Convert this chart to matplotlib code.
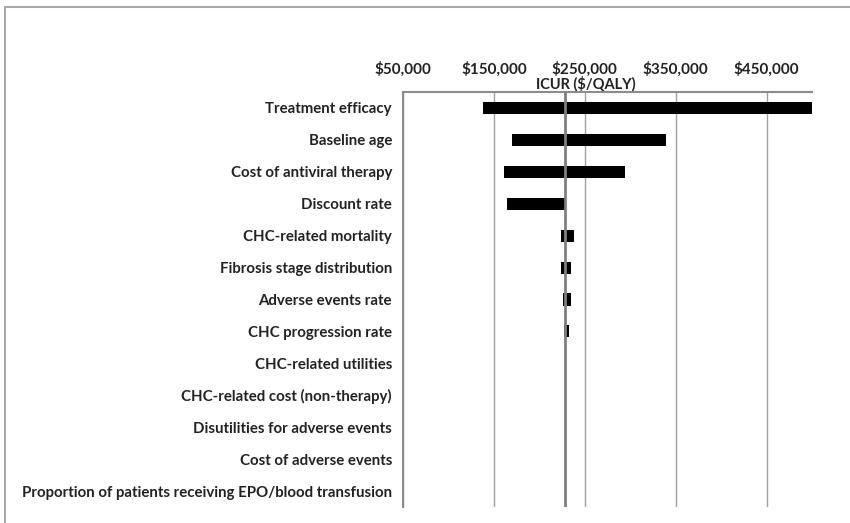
import matplotlib
matplotlib.use("Agg")
import matplotlib.pyplot as plt
from matplotlib.patches import Rectangle

params = [
    "Treatment efficacy",
    "Baseline age",
    "Cost of antiviral therapy",
    "Discount rate",
    "CHC-related mortality",
    "Fibrosis stage distribution",
    "Adverse events rate",
    "CHC progression rate",
    "CHC-related utilities",
    "CHC-related cost (non-therapy)",
    "Disutilities for adverse events",
    "Cost of adverse events",
    "Proportion of patients receiving EPO/blood transfusion",
]
low_icur = [137700, 169800, 160700, 164700, 224000, 223500, 225700, 226800, 228200,
            228600, 228600, 228600, 228600]
high_icur = [500000, 339000, 294000, 228600, 238400, 235200, 234500, 232300, 229200,
             228600, 228600, 228600, 228600]
base_icur = 228600
tick_values = [50000, 150000, 250000, 350000, 450000]
tick_labels = ["$50,000", "$150,000", "$250,000", "$350,000", "$450,000"]
x_title = "ICUR ($/QALY)"

fig = plt.figure(figsize=(8.5, 5.23), dpi=100)
fig.patches.append(Rectangle((5/850, -0.05), 1.2, 1.05 - 7/523, transform=fig.transFigure,
                             fill=False, edgecolor="#a8a8a8", linewidth=1.5))
ax = fig.add_axes([403/850, 1 - 507/523, (812 - 403)/850, (507 - 92)/523])

n = len(params)
ys = list(range(n))
for y, lo, hi in zip(ys, low_icur, high_icur):
    if lo < base_icur:
        ax.barh(y, base_icur - lo, left=lo, height=0.38, color="black", zorder=3)
    if hi > base_icur:
        ax.barh(y, hi - base_icur, left=base_icur, height=0.38, color="black", zorder=3)

ax.axvline(base_icur, color="#7f7f7f", linewidth=2.0, zorder=4)

ax.set_xlim(50000, 500000)
ax.set_ylim(n - 0.5, -0.5)
ax.set_yticks(ys)
ax.set_yticklabels(params)
ax.xaxis.set_ticks_position("top")
ax.set_xticks(tick_values)
ax.set_xticklabels(tick_labels)
ax.tick_params(axis="x", length=0, pad=11, labelsize=11, colors="#222222")
ax.tick_params(axis="y", length=0, pad=8, labelsize=10.8, colors="#222222")
for lab in ax.get_xticklabels() + ax.get_yticklabels():
    lab.set_fontfamily("Lato")
    lab.set_fontweight("bold")

ax.grid(axis="x", color="#a0a0a0", linewidth=1.0, zorder=0)
ax.set_axisbelow(True)
for s in ["right", "bottom"]:
    ax.spines[s].set_visible(False)
for s in ["left", "top"]:
    ax.spines[s].set_color("#8c8c8c")
    ax.spines[s].set_linewidth(1.5)

fig.text(586/850, 1 - 84/523, x_title, ha="center", va="center", fontsize=10.5,
         fontfamily="Lato", fontweight="bold", color="#222222")

fig.savefig("out.png", dpi=100)
